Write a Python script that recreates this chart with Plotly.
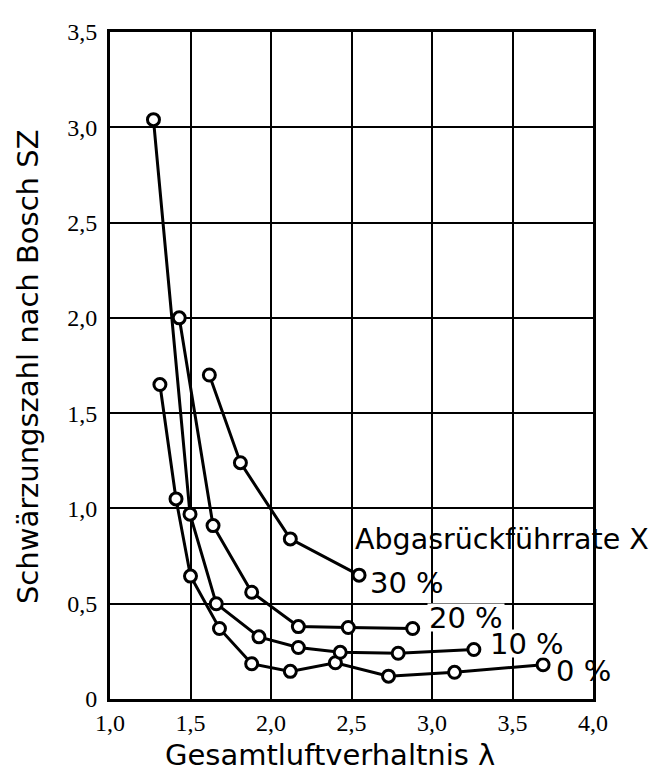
import plotly.graph_objects as go

# Data
lam_0 = [1.31, 1.41, 1.50, 1.68, 1.88, 2.12, 2.40, 2.73, 3.14, 3.69]
sz_0 = [1.65, 1.05, 0.645, 0.37, 0.185, 0.145, 0.19, 0.12, 0.14, 0.18]

lam_10 = [1.27, 1.497, 1.66, 1.925, 2.17, 2.43, 2.79, 3.26]
sz_10 = [3.04, 0.97, 0.50, 0.326, 0.27, 0.245, 0.24, 0.26]

lam_20 = [1.43, 1.64, 1.88, 2.17, 2.48, 2.88]
sz_20 = [2.00, 0.91, 0.56, 0.38, 0.375, 0.37]

lam_30 = [1.617, 1.81, 2.12, 2.547]
sz_30 = [1.70, 1.24, 0.84, 0.65]

series_labels = ["0 %", "10 %", "20 %", "30 %"]
label_x = [3.76, 3.35, 2.97, 2.60]
label_y = [0.145, 0.29, 0.43, 0.61]
label_bg = [None, "white", "white", None]

x_tickvals = [1.0, 1.5, 2.0, 2.5, 3.0, 3.5, 4.0]
x_ticktext = ["1,0", "1,5", "2,0", "2,5", "3,0", "3,5", "4,0"]
y_tickvals = [0, 0.5, 1.0, 1.5, 2.0, 2.5, 3.0, 3.5]
y_ticktext = ["0", "0,5", "1,0", "1,5", "2,0", "2,5", "3,0", "3,5"]

legend_title = "Abgasrückführrate X"
x_title = "Gesamtluftverhaltnis λ"
y_title = "Schwärzungszahl nach Bosch SZ"

fig = go.Figure()
for xs, ys, name in [(lam_0, sz_0, "0 %"), (lam_10, sz_10, "10 %"),
                     (lam_20, sz_20, "20 %"), (lam_30, sz_30, "30 %")]:
    fig.add_trace(go.Scatter(
        x=xs, y=ys, mode="lines+markers", name=name,
        line=dict(color="black", width=3),
        marker=dict(symbol="circle", size=12, color="white",
                    line=dict(color="black", width=3)),
        showlegend=False, cliponaxis=False,
    ))

sans = "DejaVu Sans"
serif = "Liberation Serif"

annotations = []
for txt, lx, ly, bg in zip(series_labels, label_x, label_y, label_bg):
    a = dict(x=lx, y=ly, xref="x", yref="y", text=txt, showarrow=False,
             xanchor="left", yanchor="middle",
             font=dict(family=sans, size=29, color="black"))
    if bg:
        a["bgcolor"] = bg
        a["height"] = 25
    annotations.append(a)

annotations.append(dict(x=2.51, y=0.838, xref="x", yref="y", text=legend_title,
                        showarrow=False, xanchor="left", yanchor="middle",
                        font=dict(family=sans, size=28.5, color="black")))
annotations.append(dict(x=0.455, y=-0.084, xref="paper", yref="paper", text=x_title,
                        showarrow=False, xanchor="center", yanchor="middle",
                        font=dict(family=sans, size=29, color="black")))
annotations.append(dict(x=-0.170, y=0.499, xref="paper", yref="paper", text=y_title,
                        showarrow=False, xanchor="center", yanchor="middle",
                        textangle=-90,
                        font=dict(family=sans, size=29, color="black")))

# the page body has an 8px margin, so the figure is drawn 8px smaller
fig.update_layout(
    width=652, height=766,
    margin=dict(l=102, r=67, t=11, b=75),
    paper_bgcolor="white", plot_bgcolor="white",
    annotations=annotations,
    xaxis=dict(range=[1.0, 4.0], tickvals=x_tickvals, ticktext=x_ticktext,
               showgrid=True, gridcolor="black", gridwidth=2,
               showline=True, linecolor="black", linewidth=3, mirror=True,
               ticks="", zeroline=False, ticklabelstandoff=0,
               tickfont=dict(family=serif, size=24, color="black")),
    yaxis=dict(range=[0, 3.5], tickvals=y_tickvals, ticktext=y_ticktext,
               showgrid=True, gridcolor="black", gridwidth=2,
               showline=True, linecolor="black", linewidth=3, mirror=True,
               ticks="", zeroline=False, ticklabelstandoff=5,
               tickfont=dict(family=serif, size=24, color="black")),
)

fig.write_html("out.html")
